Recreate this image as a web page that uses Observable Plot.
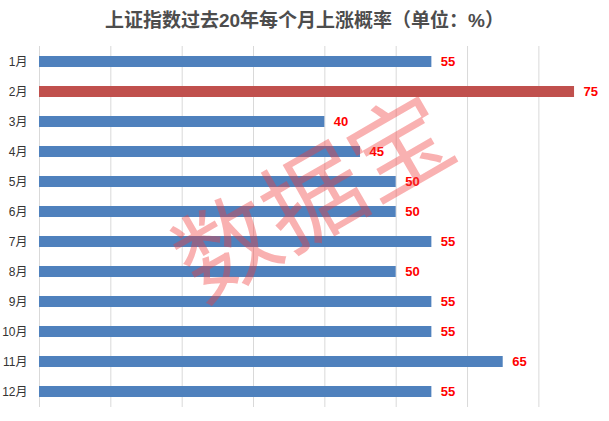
<!DOCTYPE html>
<html>
<head>
<meta charset="utf-8">
<script src="https://cdn.jsdelivr.net/npm/d3@7"></script>
<script src="https://cdn.jsdelivr.net/npm/@observablehq/plot@0.6"></script>
<style>
  html, body { margin: 0; padding: 0; background: #fff; }
  #title {
    width: 609px; height: 40px; line-height: 41px; text-align: center;
    font-family: "Liberation Sans", "Noto Sans CJK SC", sans-serif;
    font-weight: bold; font-size: 19px; color: #4d4d4d;
  }
</style>
</head>
<body>
<div id="title">上证指数过去20年每个月上涨概率（单位：%）</div>
<div id="chart"></div>
<script>
const months = ["1月","2月","3月","4月","5月","6月","7月","8月","9月","10月","11月","12月"];
const values = [55, 75, 40, 45, 50, 50, 55, 50, 55, 55, 65, 55];
const highlight = ["2月"];
const gridTicks = [0, 10, 20, 30, 40, 50, 60, 70];
const watermark = ["数据宝"];

const data = months.map((m, i) => ({month: m, value: values[i]}));

const chart = Plot.plot({
  width: 609,
  height: 381,
  marginTop: 6,
  marginBottom: 14,
  marginLeft: 39,
  marginRight: 0,
  style: {fontFamily: "Liberation Sans, Noto Sans CJK SC, sans-serif", fontSize: "12px", color: "#333"},
  x: {domain: [0, 79.9], axis: null},
  y: {domain: months, paddingInner: 0.637, paddingOuter: 0.276, label: null, tickSize: 0, tickPadding: 12},
  marks: [
    Plot.gridX(gridTicks, {stroke: "#d9d9d9", strokeOpacity: 1}),
    Plot.barX(data, {y: "month", x: "value", fill: d => highlight.includes(d.month) ? "#c0504d" : "#4f81bd"}),
    Plot.text(data, {y: "month", x: "value", text: d => String(d.value), dx: 9, textAnchor: "start", fill: "#ff0000", fontWeight: "bold", fontSize: 13}),
    Plot.axisY({tickSize: 0, tickPadding: 12, label: null, fontSize: 12, fill: "#333"}),
    Plot.text(watermark, {text: d => d, frameAnchor: "middle", dx: -9, dy: -26, rotate: -30, fontSize: 100, fontWeight: 400, fill: "rgb(240,60,60)", fillOpacity: 0.4, fontFamily: "Noto Sans CJK SC"})
  ]
});
document.getElementById("chart").appendChild(chart);
</script>
</body>
</html>
